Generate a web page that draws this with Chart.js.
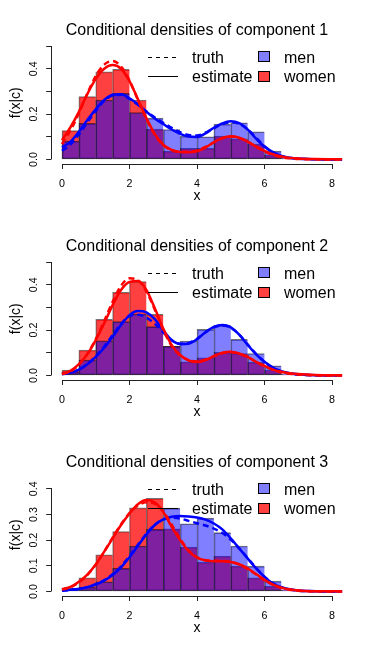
<!DOCTYPE html>
<html lang="en">
<head>
<meta charset="UTF-8">
<title>Conditional densities</title>
<script src="https://cdn.jsdelivr.net/npm/chart.js@4.4.1/dist/chart.umd.min.js"></script>
<style>
body { margin: 0; background: #fff; }
.panel { width: 381px; height: 216px; }
canvas { display: block; }
</style>
</head>
<body>
<div class="panel"><canvas id="c1" width="381" height="216"></canvas></div>
<div class="panel"><canvas id="c2" width="381" height="216"></canvas></div>
<div class="panel"><canvas id="c3" width="381" height="216"></canvas></div>
<script>
// histogram bins (width 0.5) and the grid the density curves are drawn on
const binCenters = [0.25, 0.75, 1.25, 1.75, 2.25, 2.75, 3.25, 3.75, 4.25, 4.75, 5.25, 5.75, 6.25, 6.75];
const curveX = [0, 0.25, 0.5, 0.75, 1, 1.25, 1.5, 1.75, 2, 2.25, 2.5, 2.75, 3, 3.25, 3.5, 3.75,
                4, 4.25, 4.5, 4.75, 5, 5.25, 5.5, 5.75, 6, 6.25, 6.5, 6.75, 7, 7.5, 8, 8.3];

const titles = ['Conditional densities of component 1', 'Conditional densities of component 2', 'Conditional densities of component 3'];
const xTicks = [0, 2, 4, 6, 8];
const xLim = [0, 8];
const yLim = [0.5, 0.5, 0.442];
const yTicksAll = [[0, 0.1, 0.2, 0.3, 0.4, 0.5], [0, 0.1, 0.2, 0.3, 0.4, 0.5], [0, 0.1, 0.2, 0.3, 0.4]];
const yLabelsAll = [['0.0', '', '0.2', '', '0.4', ''], ['0.0', '', '0.2', '', '0.4', ''], ['0.0', '0.1', '0.2', '0.3', '0.4']];

// component 1
const men1 = [0.081, 0.159, 0.262, 0.291, 0.207, 0.182, 0.132, 0.103, 0.100, 0.156, 0.162, 0.122, 0.037, 0.008];
const women1 = [0.127, 0.277, 0.386, 0.397, 0.262, 0.134, 0.037, 0.049, 0.049, 0.103, 0.091, 0.068, 0.019, 0.003];
const menEst1 = [0.053, 0.078, 0.122, 0.174, 0.221, 0.262, 0.285, 0.287, 0.270, 0.243, 0.210, 0.181, 0.156, 0.132, 0.113, 0.101,
                 0.099, 0.115, 0.140, 0.159, 0.168, 0.160, 0.132, 0.092, 0.056, 0.032, 0.016, 0.008, 0.004, 0.001, 0, 0];
const menTrue1 = [0.038, 0.066, 0.110, 0.163, 0.214, 0.258, 0.282, 0.285, 0.267, 0.241, 0.212, 0.185, 0.162, 0.139, 0.120, 0.108,
                  0.106, 0.118, 0.138, 0.156, 0.164, 0.157, 0.133, 0.096, 0.059, 0.031, 0.015, 0.007, 0.003, 0.001, 0, 0];
const womenEst1 = [0.085, 0.142, 0.210, 0.288, 0.355, 0.400, 0.416, 0.400, 0.345, 0.265, 0.183, 0.112, 0.065, 0.042, 0.033, 0.032,
                   0.036, 0.052, 0.076, 0.095, 0.102, 0.096, 0.079, 0.057, 0.038, 0.023, 0.013, 0.007, 0.004, 0.0015, 0.0008, 0.0005];
const womenTrue1 = [0.068, 0.128, 0.203, 0.290, 0.368, 0.418, 0.434, 0.410, 0.348, 0.262, 0.178, 0.108, 0.063, 0.041, 0.034, 0.034,
                    0.040, 0.055, 0.075, 0.093, 0.100, 0.094, 0.078, 0.056, 0.036, 0.020, 0.010, 0.005, 0.002, 0.0005, 0, 0];

// component 2
const men2 = [0.016, 0.068, 0.153, 0.237, 0.271, 0.215, 0.128, 0.152, 0.203, 0.222, 0.159, 0.097, 0.043, 0.007];
const women2 = [0.024, 0.112, 0.247, 0.366, 0.414, 0.269, 0.130, 0.060, 0.078, 0.102, 0.096, 0.058, 0.024, 0.003];
const menEst2 = [0.006, 0.013, 0.026, 0.049, 0.082, 0.122, 0.171, 0.222, 0.266, 0.284, 0.278, 0.248, 0.198, 0.156, 0.138, 0.140,
                 0.160, 0.190, 0.214, 0.222, 0.212, 0.180, 0.135, 0.093, 0.060, 0.035, 0.019, 0.010, 0.005, 0.001, 0, 0];
const menTrue2 = [0.005, 0.012, 0.025, 0.050, 0.085, 0.128, 0.178, 0.228, 0.262, 0.268, 0.255, 0.228, 0.190, 0.155, 0.140, 0.143,
                  0.162, 0.190, 0.212, 0.220, 0.210, 0.180, 0.137, 0.095, 0.060, 0.034, 0.018, 0.009, 0.004, 0.001, 0, 0];
const womenEst2 = [0.007, 0.020, 0.050, 0.093, 0.156, 0.230, 0.310, 0.377, 0.412, 0.416, 0.377, 0.296, 0.207, 0.134, 0.090, 0.066,
                   0.059, 0.068, 0.085, 0.100, 0.104, 0.097, 0.082, 0.060, 0.042, 0.026, 0.016, 0.010, 0.006, 0.002, 0.001, 0.0005];
const womenTrue2 = [0.006, 0.018, 0.048, 0.095, 0.160, 0.240, 0.325, 0.395, 0.428, 0.420, 0.370, 0.290, 0.200, 0.130, 0.088, 0.068,
                    0.062, 0.070, 0.085, 0.098, 0.102, 0.096, 0.080, 0.060, 0.040, 0.025, 0.014, 0.008, 0.004, 0.001, 0, 0];

// component 3
const men3 = [0.008, 0.017, 0.038, 0.090, 0.177, 0.242, 0.325, 0.264, 0.286, 0.229, 0.177, 0.099, 0.040, 0.005];
const women3 = [0.013, 0.053, 0.143, 0.233, 0.326, 0.363, 0.244, 0.173, 0.114, 0.138, 0.099, 0.053, 0.020, 0.003];
const menEst3 = [0.004, 0.007, 0.010, 0.017, 0.027, 0.042, 0.064, 0.094, 0.133, 0.178, 0.222, 0.259, 0.281, 0.291, 0.294, 0.292,
                 0.288, 0.280, 0.265, 0.242, 0.207, 0.168, 0.129, 0.090, 0.057, 0.031, 0.017, 0.009, 0.004, 0.001, 0, 0];
const menTrue3 = [0.003, 0.006, 0.010, 0.017, 0.028, 0.044, 0.067, 0.098, 0.138, 0.182, 0.225, 0.260, 0.280, 0.287, 0.284, 0.275,
                  0.266, 0.257, 0.245, 0.228, 0.202, 0.168, 0.130, 0.092, 0.058, 0.032, 0.016, 0.008, 0.003, 0.001, 0, 0];
const womenEst3 = [0.009, 0.018, 0.038, 0.066, 0.105, 0.155, 0.207, 0.259, 0.304, 0.340, 0.356, 0.347, 0.310, 0.252, 0.200, 0.158,
                   0.132, 0.121, 0.118, 0.118, 0.115, 0.106, 0.090, 0.068, 0.045, 0.027, 0.015, 0.008, 0.004, 0.001, 0.0005, 0.0003];
const womenTrue3 = [0.007, 0.016, 0.035, 0.064, 0.104, 0.155, 0.210, 0.262, 0.305, 0.335, 0.348, 0.342, 0.312, 0.260, 0.205, 0.160,
                    0.133, 0.122, 0.120, 0.119, 0.115, 0.105, 0.088, 0.066, 0.044, 0.026, 0.014, 0.007, 0.003, 0.001, 0, 0];

const panels = [
  [men1, women1, menEst1, menTrue1, womenEst1, womenTrue1],
  [men2, women2, menEst2, menTrue2, womenEst2, womenTrue2],
  [men3, women3, menEst3, menTrue3, womenEst3, womenTrue3]
];

const FONT = "'Liberation Sans', Arial, Helvetica, sans-serif";
const MEN_FILL = 'rgba(0,0,255,0.5)';
const WOMEN_FILL = 'rgba(255,0,0,0.75)';

function alignPx(p) { return Math.round(p - 0.5) + 0.5; }

// R-like decorations: axis lines between end ticks, tick labels, titles and the legend
const rStyle = {
  id: 'rStyle',
  afterDraw(chart, args, opts) {
    const ctx = chart.ctx;
    const xs = chart.scales.x, ys = chart.scales.y, a = chart.chartArea;
    const cx = (a.left + a.right) / 2;
    ctx.save();
    ctx.strokeStyle = '#222';
    ctx.lineWidth = 1;
    ctx.beginPath();
    const yb = alignPx(a.bottom), xl = alignPx(a.left);
    ctx.moveTo(alignPx(xs.getPixelForValue(xTicks[0])), yb);
    ctx.lineTo(alignPx(xs.getPixelForValue(xTicks[xTicks.length - 1])) + 0.5, yb);
    ctx.moveTo(xl, alignPx(ys.getPixelForValue(opts.yTicks[0])));
    ctx.lineTo(xl, alignPx(ys.getPixelForValue(opts.yTicks[opts.yTicks.length - 1])) - 0.5);
    ctx.stroke();

    ctx.fillStyle = '#000';
    // x tick labels
    ctx.font = '10.7px ' + FONT;
    ctx.textAlign = 'center';
    ctx.textBaseline = 'alphabetic';
    xTicks.forEach(v => ctx.fillText(String(v), xs.getPixelForValue(v), a.bottom + 23.3));
    // y tick labels, rotated like R's default las = 0
    opts.yTicks.forEach((v, i) => {
      const lab = opts.yLabels[i];
      if (!lab) return;
      ctx.save();
      ctx.translate(a.left - 14.7, ys.getPixelForValue(v));
      ctx.rotate(-Math.PI / 2);
      ctx.fillText(lab, 0, 0);
      ctx.restore();
    });

    // axis titles
    ctx.font = '14px ' + FONT;
    ctx.fillText('x', cx, a.bottom + 36);
    ctx.save();
    ctx.translate(20, (a.top + a.bottom) / 2);
    ctx.rotate(-Math.PI / 2);
    ctx.fillText('f(x|c)', 0, 0);
    ctx.restore();

    // main title
    ctx.font = '16px ' + FONT;
    ctx.fillText(opts.title, cx, 35);

    // legend
    ctx.textAlign = 'left';
    ctx.strokeStyle = '#000';
    ctx.lineWidth = 1;
    ctx.setLineDash([4, 4]);
    ctx.beginPath();
    ctx.moveTo(148, 57.5); ctx.lineTo(178, 57.5);
    ctx.stroke();
    ctx.setLineDash([]);
    ctx.beginPath();
    ctx.moveTo(148, 76.5); ctx.lineTo(178, 76.5);
    ctx.stroke();
    ctx.fillText('truth', 192, 62.5);
    ctx.fillText('estimate', 192, 82);

    ctx.fillStyle = MEN_FILL;
    ctx.fillRect(258.5, 51.5, 11, 10);
    ctx.strokeRect(258.5, 51.5, 11, 10);
    ctx.fillStyle = WOMEN_FILL;
    ctx.fillRect(258.5, 71.5, 11, 10);
    ctx.strokeRect(258.5, 71.5, 11, 10);
    ctx.fillStyle = '#000';
    ctx.fillText('men', 284, 62.5);
    ctx.fillText('women', 284, 82);
    ctx.restore();
  }
};

function pts(xv, yv) { return xv.map((x, i) => ({ x: x, y: yv[i] })); }

function barSet(label, values, fill, order) {
  return {
    type: 'bar', label: label, data: pts(binCenters, values),
    backgroundColor: fill, borderColor: 'rgba(0,0,0,0.55)',
    borderWidth: { top: 1, left: 1, right: 0, bottom: 1 }, borderSkipped: false,
    barPercentage: 1, categoryPercentage: 1, grouped: false, order: order
  };
}

function curveSet(label, values, color, dashed, order) {
  return {
    type: 'line', label: label, data: pts(curveX, values),
    borderColor: color, borderWidth: 2.5, borderDash: dashed ? [6, 4] : [],
    pointRadius: 0, fill: false, cubicInterpolationMode: 'monotone', order: order
  };
}

function makeChart(id, k) {
  const [men, women, menEst, menTrue, womenEst, womenTrue] = panels[k];
  const yTicks = yTicksAll[k];
  const xPad = 0.04 * (xLim[1] - xLim[0]);
  new Chart(document.getElementById(id), {
    type: 'bar',
    data: {
      datasets: [
        curveSet('women estimate', womenEst, '#ff0000', false, 0),
        curveSet('women truth', womenTrue, '#ff0000', true, 1),
        curveSet('men estimate', menEst, '#0000ff', false, 2),
        curveSet('men truth', menTrue, '#0000ff', true, 3),
        barSet('men', men, MEN_FILL, 4),
        barSet('women', women, WOMEN_FILL, 5)
      ]
    },
    options: {
      responsive: false,
      animation: false,
      events: [],
      layout: { padding: { left: 0, top: 41.5, right: 38.2, bottom: 0 } },
      plugins: {
        legend: { display: false },
        tooltip: { enabled: false },
        rStyle: { title: titles[k], yTicks: yTicks, yLabels: yLabelsAll[k] }
      },
      scales: {
        x: {
          type: 'linear', offset: false,
          min: xLim[0] - xPad, max: xLim[1] + xPad,
          afterBuildTicks: s => { s.ticks = xTicks.map(v => ({ value: v })); },
          afterFit: s => { s.height = 52; },
          ticks: { display: false },
          grid: { display: true, offset: false, drawOnChartArea: false, drawTicks: true, tickLength: 5, tickColor: '#222' },
          border: { display: false }
        },
        y: {
          type: 'linear',
          min: -0.04 * yLim[k], max: 1.04 * yLim[k],
          afterBuildTicks: s => { s.ticks = yTicks.map(v => ({ value: v })); },
          afterFit: s => { s.width = 51.2; },
          ticks: { display: false },
          grid: { display: true, offset: false, drawOnChartArea: false, drawTicks: true, tickLength: 5, tickColor: '#222' },
          border: { display: false }
        }
      }
    },
    plugins: [rStyle]
  });
}

makeChart('c1', 0);
makeChart('c2', 1);
makeChart('c3', 2);
</script>
</body>
</html>
